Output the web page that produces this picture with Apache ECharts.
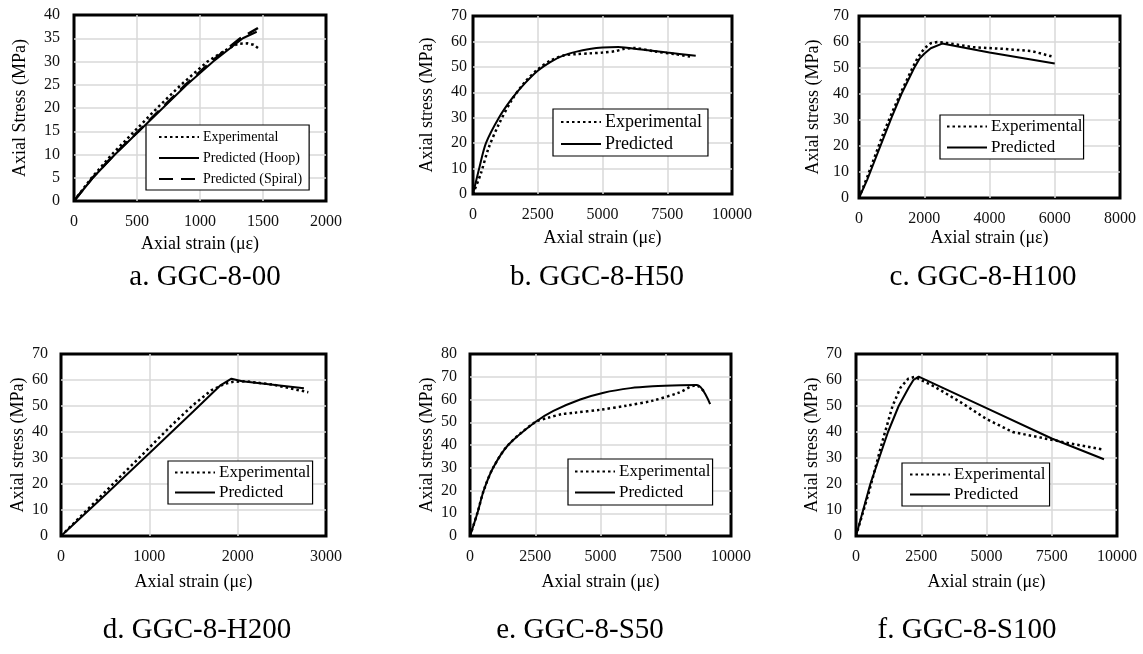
<!DOCTYPE html>
<html>
<head>
<meta charset="utf-8">
<title>Axial stress–strain curves, GGC-8 columns</title>
<script src="https://cdn.jsdelivr.net/npm/echarts@6/dist/echarts.min.js"></script>
<style>
  html, body { margin: 0; padding: 0; background: #fff; }
  #chart { width: 1143px; height: 654px; }
</style>
</head>
<body>
<div id="chart"></div>
<script>
// ---- data: [axial strain (με), axial stress (MPa)] ----
const aExperimental = [[0,0],[140,5],[300,10],[480,15],[660,20],[850,25],[1060,30],[1200,32.4],[1300,33.8],[1380,33.9],[1425,33.6],[1465,32.8]];
const aHoop = [[0,0],[150,5],[325,10],[515,15],[705,20],[895,25],[1105,30],[1340,35],[1450,36.4]];
const aSpiral = [[0,0],[150,5.1],[320,10],[510,15],[700,20.1],[885,25],[1090,30],[1320,35],[1460,37.2]];

const bExperimental = [[0,0],[300,8],[600,18],[1000,27.5],[1500,37],[2000,44],[2500,49],[3000,52.5],[3500,54.5],[4000,55],[4500,55.3],[5000,55.6],[5500,56.2],[5800,57],[6200,57.4],[7000,56.1],[7800,55],[8400,54]];
const bPredicted = [[0,0],[250,10.5],[500,20],[1000,30],[1500,37.5],[2000,43.5],[2500,48.5],[3000,52],[3500,54.5],[4000,56],[4500,57],[5000,57.6],[5600,57.8],[6500,56.8],[7500,55.6],[8600,54.4]];

const cExperimental = [[0,0],[250,8],[500,16.5],[750,25],[1000,32.5],[1300,41],[1600,49],[1800,54],[2000,57.5],[2200,59.5],[2400,60],[2700,59.6],[3500,58],[4500,57.3],[5300,56.5],[5900,54.5]];
const cPredicted = [[0,0],[250,7],[500,15],[750,23],[1000,31],[1300,40],[1690,50],[1850,53.5],[2000,55.5],[2200,57.6],[2550,59.4],[4000,56],[6000,51.7]];

const dExperimental = [[0,0],[250,8.5],[500,17],[750,25.5],[1000,34],[1250,42.5],[1500,50.5],[1700,56],[1850,58.5],[1950,59.3],[2100,59.5],[2400,58.2],[2800,55.3]];
const dPredicted = [[0,0],[500,15.8],[1000,31.8],[1500,48],[1800,57.8],[1930,60.5],[2050,59.5],[2750,56.8]];

const eExperimental = [[0,0],[280,10],[526,20],[886,30],[1463,40],[2490,50],[3000,52],[3500,53.5],[4000,54.2],[5000,55.5],[6000,57.3],[7000,59.5],[8000,63],[8650,66.2],[8800,65.5],[8970,63.5]];
const ePredicted = [[0,0],[282,10],[526,20],[886,30],[1463,40],[2490,50],[3196,55],[4223,60],[5122,63],[6149,65],[7000,65.8],[8074,66.3],[8700,66.4],[9200,58]];

const fExperimental = [[0,0],[500,17],[1000,36],[1400,50],[1700,57],[2000,60.5],[2250,61.2],[3000,57.5],[4000,51.5],[5000,45],[6000,40],[7000,38],[8000,36],[9500,33.2]];
const fPredicted = [[0,0],[549,20],[1226,40],[1635,50],[2018,57],[2200,60],[2400,61.3],[5000,49.2],[7500,37.5],[9500,29.5]];

// ---- axis scales ----
const xMax = [2000, 10000, 8000, 3000, 10000, 10000];
const xStep = [500, 2500, 2000, 1000, 2500, 2500];
const yMax = [40, 70, 70, 70, 80, 70];
const yStep = [5, 10, 10, 10, 10, 10];

// ---- texts ----
const captions = ['a. GGC-8-00', 'b. GGC-8-H50', 'c. GGC-8-H100', 'd. GGC-8-H200', 'e. GGC-8-S50', 'f. GGC-8-S100'];
const yTitles = ['Axial Stress (MPa)', 'Axial stress (MPa)', 'Axial stress (MPa)', 'Axial stress (MPa)', 'Axial stress (MPa)', 'Axial stress (MPa)'];
const xTitle = 'Axial strain (με)';

const FONT = '"Liberation Serif", "Times New Roman", serif';

// ---- layout of the six panels (plot boxes, label gaps, legend boxes) ----
const panels = [
  { grid: [74, 15, 252, 186], yMargin: 14, yGap: 45, xGap: 34, legend: [146, 125], legendFont: 14, legendGap: 7, pad: [5, 7, 4, 12] },
  { grid: [473, 16, 259, 178], yMargin: 6, yGap: 37, xGap: 35, legend: [553, 109], legendFont: 18, legendGap: 4, pad: [4, 6, 3, 7] },
  { grid: [859, 16, 261, 182], yMargin: 10, yGap: 37, xGap: 31, legend: [940, 115], legendFont: 17, legendGap: 4, pad: [3, 1, 3, 6] },
  { grid: [61, 354, 265, 182], yMargin: 13, yGap: 34, xGap: 37, legend: [168, 461], legendFont: 17, legendGap: 3, pad: [3, 2, 3, 6] },
  { grid: [470, 354, 261, 182], yMargin: 13, yGap: 34, xGap: 37, legend: [568, 459], legendFont: 17, legendGap: 4, pad: [4, 2, 4, 6] },
  { grid: [856, 354, 261, 182], yMargin: 14, yGap: 35, xGap: 37, legend: [902, 463], legendFont: 17, legendGap: 3, pad: [3, 4, 3, 7] }
];
const captionPos = [[205, 277], [597, 277], [983, 277], [197, 630], [580, 630], [967, 630]];

const seriesByPanel = [
  [['Experimental', aExperimental, 'dot', false], ['Predicted (Hoop)', aHoop, 'solid', false], ['Predicted (Spiral)', aSpiral, 'dash', false]],
  [['Experimental', bExperimental, 'dot', true], ['Predicted', bPredicted, 'solid', true]],
  [['Experimental', cExperimental, 'dot', false], ['Predicted', cPredicted, 'solid', false]],
  [['Experimental', dExperimental, 'dot', false], ['Predicted', dPredicted, 'solid', false]],
  [['Experimental', eExperimental, 'dot', true], ['Predicted', ePredicted, 'solid', true]],
  [['Experimental', fExperimental, 'dot', false], ['Predicted', fPredicted, 'solid', false]]
];

const lineStyles = {
  dot: { color: '#000', width: 2.5, type: [2.5, 3] },
  solid: { color: '#000', width: 2, type: 'solid' },
  dash: { color: '#000', width: 2.5, type: [14, 8] }
};

const plainNumber = v => String(v);
const grids = [], xAxes = [], yAxes = [], series = [], legends = [], graphics = [];

panels.forEach((p, i) => {
  grids.push({
    left: p.grid[0], top: p.grid[1], width: p.grid[2], height: p.grid[3],
    show: true, borderColor: '#000', borderWidth: 3, backgroundColor: 'transparent',
    containLabel: false
  });
  xAxes.push({
    type: 'value', gridIndex: i, min: 0, max: xMax[i], interval: xStep[i],
    name: xTitle, nameLocation: 'middle', nameGap: p.xGap,
    nameTextStyle: { fontFamily: FONT, fontSize: 18, color: '#000' },
    axisLine: { show: false }, axisTick: { show: false },
    axisLabel: { fontFamily: FONT, fontSize: 16, color: '#111', margin: 13, formatter: plainNumber },
    splitLine: { show: true, showMinLine: false, showMaxLine: false, lineStyle: { color: '#d9d9d9', width: 1.5 } }
  });
  yAxes.push({
    type: 'value', gridIndex: i, min: 0, max: yMax[i], interval: yStep[i],
    name: yTitles[i], nameLocation: 'middle', nameGap: p.yGap,
    nameTextStyle: { fontFamily: FONT, fontSize: 18, color: '#000' },
    axisLine: { show: false }, axisTick: { show: false },
    axisLabel: { fontFamily: FONT, fontSize: 16, color: '#111', margin: p.yMargin, formatter: plainNumber },
    splitLine: { show: true, showMinLine: false, showMaxLine: false, lineStyle: { color: '#d9d9d9', width: 1.5 } }
  });
  const names = [];
  seriesByPanel[i].forEach(([name, data, style, smooth]) => {
    names.push(name);
    series.push({
      type: 'line', name, data, xAxisIndex: i, yAxisIndex: i,
      symbol: 'none', color: '#000', animation: false,
      smooth: smooth ? 0.3 : false,
      lineStyle: Object.assign({}, lineStyles[style]),
      z: style === 'dot' ? 3 : 2
    });
  });
  legends.push({
    data: names, orient: 'vertical', left: p.legend[0], top: p.legend[1],
    itemWidth: 40, itemHeight: 14, itemGap: p.legendGap,
    padding: p.pad, borderColor: '#000', borderWidth: 1.2, backgroundColor: '#fff',
    selectedMode: false,
    itemStyle: { opacity: 0 },
    textStyle: { fontFamily: FONT, fontSize: p.legendFont, color: '#000', padding: [0, 0, 0, -1] }
  });
  graphics.push({
    type: 'text', x: captionPos[i][0], y: captionPos[i][1],
    style: { text: captions[i], font: '29px ' + FONT, fill: '#000', textAlign: 'center', textVerticalAlign: 'middle' }
  });
});

const chart = echarts.init(document.getElementById('chart'), null, { renderer: 'canvas' });
chart.setOption({
  animation: false,
  backgroundColor: '#fff',
  grid: grids, xAxis: xAxes, yAxis: yAxes, series, legend: legends,
  graphic: graphics
});
</script>
</body>
</html>
